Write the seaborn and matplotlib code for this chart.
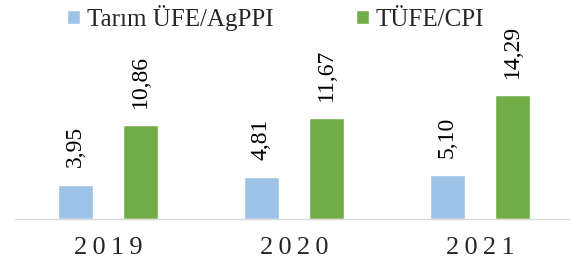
"""Tarım ÜFE vs TÜFE bar chart."""

import matplotlib

matplotlib.use("Agg")
import matplotlib.pyplot as plt
import pandas as pd
import seaborn as sns
from matplotlib.ticker import FixedLocator

years = ["2019", "2020", "2021"]
series_names = ["Tarım ÜFE/AgPPI", "TÜFE/CPI"]
agppi = [3.95, 4.81, 5.10]
cpi = [10.86, 11.67, 14.29]

colors = ["#9DC3E6", "#70AD47"]

df = pd.DataFrame(
    {
        "year": years * 2,
        "value": agppi + cpi,
        "series": [series_names[0]] * len(years) + [series_names[1]] * len(years),
    }
)

sns.set_style("white")
plt.rcParams["font.family"] = ["Liberation Serif", "DejaVu Serif"]

W, H = 570, 266
fig = plt.figure(figsize=(W / 100, H / 100), dpi=100)
ax = fig.add_axes([15 / W, (H - 219) / H, 558 / W, 173 / H])

sns.barplot(
    data=df,
    x="year",
    y="value",
    hue="series",
    palette=colors,
    saturation=1,
    width=0.7,
    gap=0.45,
    ax=ax,
    legend=True,
)

for cont in ax.containers:
    vals = cont.datavalues
    ax.bar_label(
        cont,
        labels=[f"{v:.2f}".replace(".", ",") for v in vals],
        rotation=90,
        padding=12.5,
        fontsize=17,
        color="#000000",
    )

ax.set_xlim(-0.5, 2.5)
ax.set_ylim(0, 20)
ax.set_xlabel("")
ax.set_ylabel("")
ax.set_yticks([])
ax.set_xticks(range(len(years)))
# letter-spaced year labels, as in the source
ax.set_xticklabels(["\u2009".join(y) for y in years], fontsize=19)
ax.xaxis.set_minor_locator(FixedLocator([-0.5, 0.5, 1.5, 2.5]))
ax.tick_params(axis="x", which="major", length=0, pad=13)
ax.tick_params(axis="x", which="minor", length=4.5, width=1, color="#d9d9d9", direction="out")

for side in ["left", "top", "right"]:
    ax.spines[side].set_visible(False)
ax.spines["bottom"].set_color("#d9d9d9")
ax.spines["bottom"].set_linewidth(1)

handles, labels = ax.get_legend_handles_labels()
ax.legend_.remove()
fig.legend(
    handles,
    labels,
    loc="center",
    bbox_to_anchor=(275.5 / W, 1 - 18 / H),
    ncol=2,
    frameon=False,
    fontsize=18,
    handlelength=0.52,
    handleheight=0.5,
    handletextpad=0.25,
    columnspacing=3.3,
    borderpad=0,
)

fig.savefig("out.png", dpi=100)
plt.close(fig)
